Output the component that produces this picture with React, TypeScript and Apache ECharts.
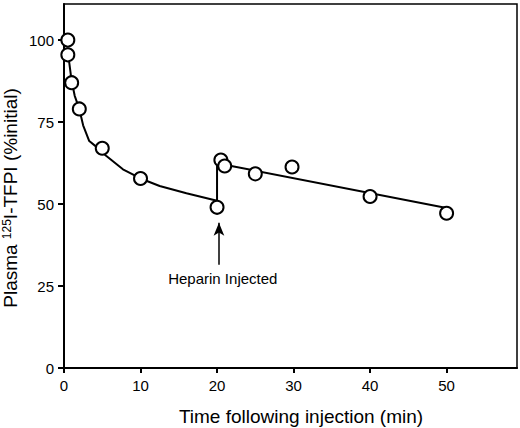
import React, { useEffect, useRef } from "react";
import * as echarts from "echarts";

// Measured points (time in min, % of initial)
const measuredPoints: [number, number][] = [
  [0.5, 100], [0.5, 95.5], [1, 87], [2, 79], [5, 67], [10, 57.8], [20, 49],
  [20.5, 63.4], [21, 61.6], [25, 59.2], [29.8, 61.3], [40, 52.3], [50, 47.2],
];

// Fitted curve
const fitCurve: [number, number][] = [
  [0.5, 96.5], [1, 87.5], [1.4, 83], [2, 79], [2.5, 74], [3.3, 69.2], [4.2, 67.5],
  [5.5, 64.7], [7.7, 60.6], [10, 57.8], [12.5, 55.5], [16, 53.3], [20, 51],
  [20, 63.4], [21, 62], [50, 48.8],
];

const xTicks = [0, 10, 20, 30, 40, 50];
const yTicks = [0, 25, 50, 75, 100];

const arrowFrom: [number, number] = [20.25, 31.5];
const arrowTo: [number, number] = [20.25, 44.3];
const notePoint: [number, number] = [20.75, 27.4];
const noteText = "Heparin Injected";

const FONT = "'Liberation Sans', Arial, Helvetica, sans-serif";

export default function App() {
  const ref = useRef<HTMLDivElement>(null);
  useEffect(() => {
    if (!ref.current) return;
    const chart = echarts.init(ref.current, undefined, { renderer: "svg" });
    chart.setOption({
      animation: false,
      backgroundColor: "#fff",
      grid: {
        left: 64,
        right: 3,
        top: 4,
        bottom: 60,
        show: true,
        borderColor: "#000",
        borderWidth: 1.5,
        backgroundColor: "transparent",
      },
      xAxis: {
        type: "value",
        min: 0,
        max: 59.2,
        axisLine: { show: true, onZero: false, lineStyle: { color: "#000", width: 2 } },
        axisTick: { show: true, length: 5, inside: false, customValues: xTicks, lineStyle: { color: "#000", width: 2 } },
        axisLabel: { customValues: xTicks, color: "#000", fontSize: 15, fontFamily: FONT, margin: 10 },
        splitLine: { show: false },
      },
      yAxis: {
        type: "value",
        min: 0,
        max: 111,
        axisLine: { show: true, onZero: false, lineStyle: { color: "#000", width: 2 } },
        axisTick: { show: true, length: 6, inside: false, customValues: yTicks, lineStyle: { color: "#000", width: 2 } },
        axisLabel: { customValues: yTicks, color: "#000", fontSize: 15, fontFamily: FONT, margin: 10 },
        splitLine: { show: false },
      },
      graphic: [
        {
          type: "text",
          x: 301,
          y: 416,
          style: {
            text: "Time following injection (min)",
            fontSize: 19,
            fontFamily: FONT,
            fill: "#000",
            align: "center",
            verticalAlign: "middle",
          },
        },
        {
          type: "text",
          x: 10,
          y: 198,
          rotation: Math.PI / 2,
          style: {
            text: "{a|Plasma }{s|125}{a|I-TFPI (%initial)}",
            align: "center",
            verticalAlign: "middle",
            rich: {
              a: { fontSize: 19, fontFamily: FONT, fill: "#000", color: "#000" },
              s: { fontSize: 12, fontFamily: FONT, fill: "#000", color: "#000", verticalAlign: "top" },
            },
          },
        },
      ],
      series: [
        {
          type: "line",
          name: "fit",
          data: fitCurve,
          showSymbol: false,
          symbol: "none",
          smooth: false,
          lineStyle: { color: "#000", width: 2 },
          z: 2,
          markLine: {
            silent: true,
            symbol: ["none", "arrow"],
            symbolSize: [8, 13],
            lineStyle: { color: "#000", width: 1.5, type: "solid" },
            label: { show: false },
            data: [[{ coord: arrowFrom }, { coord: arrowTo }]],
          },
        },
        {
          type: "scatter",
          name: "measured",
          data: measuredPoints,
          symbol: "circle",
          symbolSize: 13,
          itemStyle: { color: "#fff", borderColor: "#000", borderWidth: 2, opacity: 1 },
          z: 3,
        },
        {
          type: "scatter",
          name: "note",
          data: [notePoint],
          symbolSize: 1,
          itemStyle: { color: "rgba(0,0,0,0)" },
          label: {
            show: true,
            position: "inside",
            formatter: noteText,
            color: "#000",
            opacity: 1,
            textBorderWidth: 0,
            fontSize: 15,
            fontFamily: FONT,
          },
          z: 4,
        },
      ],
    });
    return () => chart.dispose();
  }, []);
  return (
    <div
      ref={ref}
      style={{ position: "fixed", left: 0, top: 0, width: 520, height: 428, background: "#fff" }}
    />
  );
}
